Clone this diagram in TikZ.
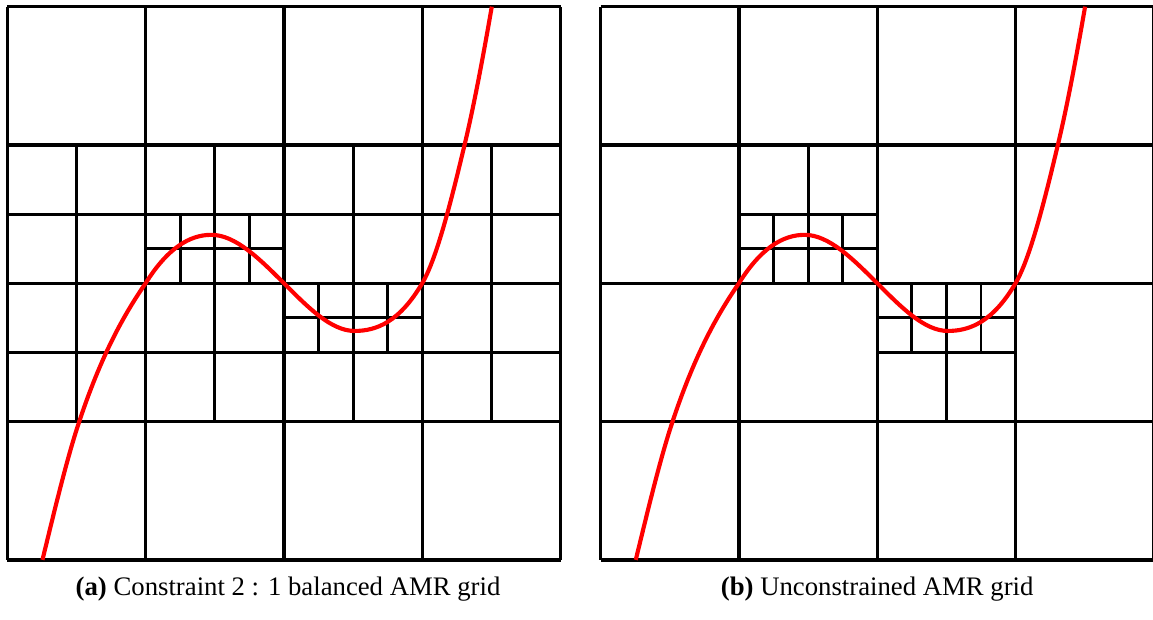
\documentclass[tikz,border=0pt]{standalone}
\usepackage{fontspec}
\setmainfont{Liberation Serif}
\begin{document}
\begin{tikzpicture}[x=2cm, y=2cm,
    coarseline/.style={line width=1.4pt},
    fineline/.style={line width=1.2pt},
    redcurve/.style={red, line width=1.7pt},
    every node/.style={font=\fontsize{11}{13}\selectfont}]
  \useasboundingbox (-0.053,-0.428) rectangle (8.284,4.048);
  % balanced 2:1
  \begin{scope}
    \draw[fineline] (0,1) grid[step=0.5] (4,3);
    \draw[fineline] (1,2) grid[step=0.25] (2,2.5);
    \draw[fineline] (2,1.5) grid[step=0.25] (3,2);
    \draw[coarseline] (0,0) grid[step=1] (4,4);
    \draw[redcurve] (0.254,0) .. controls (0.343,0.364) and (0.431,0.734) .. (0.52,1)
      .. controls (0.68,1.48) and (0.84,1.768) .. (1,2)
      .. controls (1.158,2.253) and (1.317,2.35) .. (1.475,2.35)
      .. controls (1.65,2.35) and (1.825,2.175) .. (2,2)
      .. controls (2.17,1.83) and (2.34,1.655) .. (2.51,1.655)
      .. controls (2.673,1.655) and (2.837,1.723) .. (3,2)
      .. controls (3.102,2.173) and (3.204,2.572) .. (3.306,3)
      .. controls (3.372,3.276) and (3.437,3.619) .. (3.503,4);
    \node[anchor=base] (capa) at (2.03,-0.26) {\textbf{(a)} Constraint 2 : 1 balanced AMR grid};
  \end{scope}
  % unconstrained
  \begin{scope}[xshift=8.58cm]
    \draw[fineline] (1,2) grid[step=0.5] (2,3);
    \draw[fineline] (1,2) grid[step=0.25] (2,2.5);
    \draw[fineline] (2,1) grid[step=0.5] (3,2);
    \draw[fineline] (2,1.5) grid[step=0.25] (3,2);
    \draw[coarseline] (0,0) grid[step=1] (4,4);
    \draw[redcurve] (0.254,0) .. controls (0.343,0.364) and (0.431,0.734) .. (0.52,1)
      .. controls (0.68,1.48) and (0.84,1.768) .. (1,2)
      .. controls (1.158,2.253) and (1.317,2.35) .. (1.475,2.35)
      .. controls (1.65,2.35) and (1.825,2.175) .. (2,2)
      .. controls (2.17,1.83) and (2.34,1.655) .. (2.51,1.655)
      .. controls (2.673,1.655) and (2.837,1.723) .. (3,2)
      .. controls (3.102,2.173) and (3.204,2.572) .. (3.306,3)
      .. controls (3.372,3.276) and (3.437,3.619) .. (3.503,4);
    \node[anchor=base] (capb) at (2,-0.26) {\textbf{(b)} Unconstrained AMR grid};
  \end{scope}
\end{tikzpicture}
\end{document}
